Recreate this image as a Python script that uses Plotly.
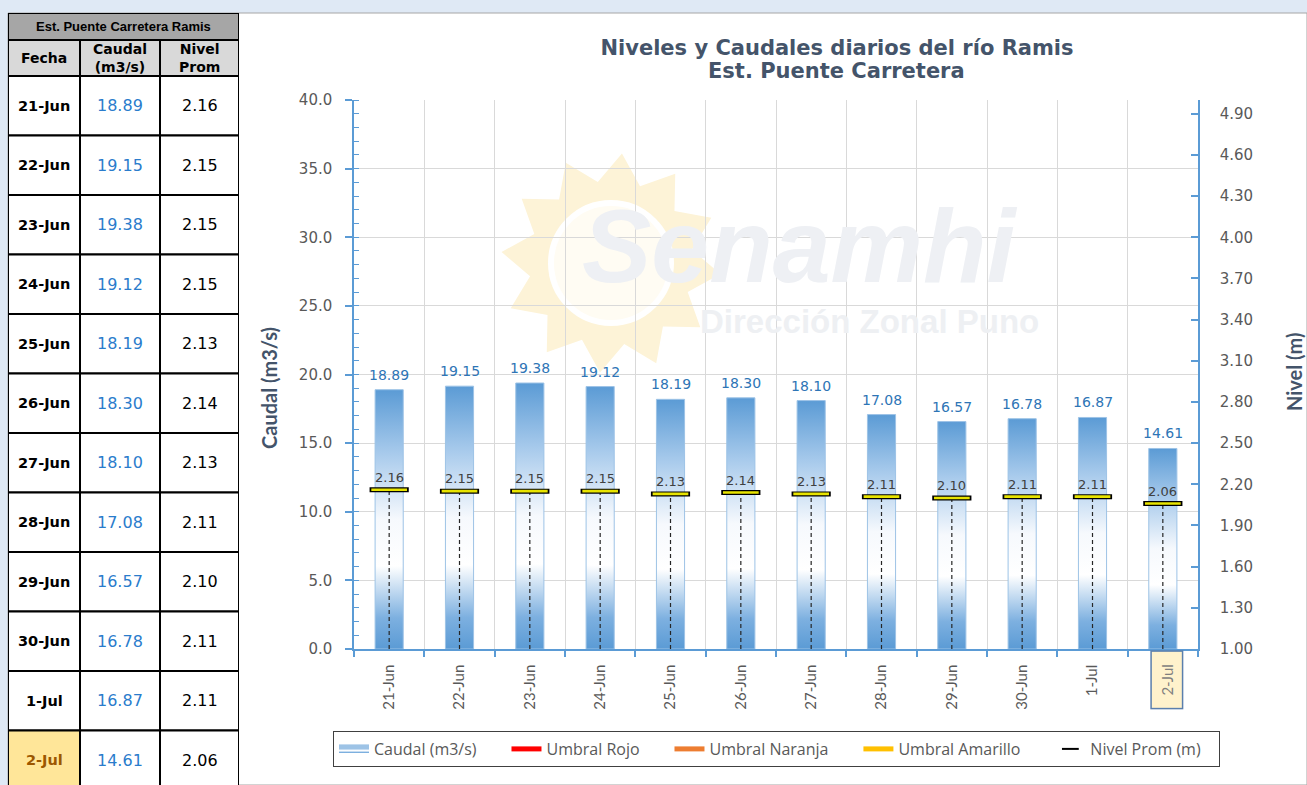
import math
import plotly.graph_objects as go

# ---------------- data ----------------
fechas = ["21-Jun", "22-Jun", "23-Jun", "24-Jun", "25-Jun", "26-Jun",
          "27-Jun", "28-Jun", "29-Jun", "30-Jun", "1-Jul", "2-Jul"]
caudal = [18.89, 19.15, 19.38, 19.12, 18.19, 18.30, 18.10, 17.08, 16.57, 16.78, 16.87, 14.61]
nivel = [2.16, 2.15, 2.15, 2.15, 2.13, 2.14, 2.13, 2.11, 2.10, 2.11, 2.11, 2.06]
caudal_ticks = [0.0, 5.0, 10.0, 15.0, 20.0, 25.0, 30.0, 35.0, 40.0]
nivel_ticks = [1.00, 1.30, 1.60, 1.90, 2.20, 2.50, 2.80, 3.10, 3.40, 3.70, 4.00, 4.30, 4.60, 4.90]
umbral_rojo = [None]
umbral_naranja = [None]
umbral_amarillo = [None]
tabla_titulo = "Est. Puente Carretera Ramis"
tabla_columnas = ["Fecha", "Caudal<br>(m3/s)", "Nivel<br>Prom"]
fecha_actual = "2-Jul"
titulo_1 = "Niveles y Caudales diarios del río Ramis"
titulo_2 = "Est. Puente Carretera"

W, H = 1307, 785


def px(x):
    return x / W


def py(y):
    return 1 - y / H


idx = list(range(len(fechas)))
n = len(fechas)
BLUE = "#5b9bd5"
GRID = "#d9d9d9"
TXT = "#595959"
TITLE_C = "#44546a"
NB = "\u00a0"

fig = go.Figure()

# ---------------- bars (gradient filled) ----------------
grad = [[0.0, "#5b9bd5"], [0.12, "#7db0e0"], [0.32, "#ffffff"], [0.5, "#f6f9fd"],
        [0.75, "#a9cbec"], [1.0, "#5b9bd5"]]
hw = 0.2
for i, v in zip(idx, caudal):
    fig.add_trace(go.Scatter(
        x=[i - hw, i - hw, i + hw, i + hw, i - hw], y=[0, v, v, 0, 0],
        fill="toself", mode="lines", line=dict(color="#9dc3e6", width=1),
        fillgradient=dict(type="vertical", colorscale=grad, start=0, stop=v),
        name="Caudal (m3/s)" + NB * 6, legendgroup="caudal", showlegend=(i == 0),
        hoverinfo="skip"))

# ---------------- thresholds (legend only, no visible values) ----------------
for nm, col, vals in [("Umbral Rojo", "#ff0000", umbral_rojo),
                      ("Umbral Naranja", "#ed7d31", umbral_naranja),
                      ("Umbral Amarillo", "#ffc000", umbral_amarillo)]:
    fig.add_trace(go.Scatter(x=[None] * len(vals), y=vals, mode="lines", name=nm + NB * 6,
                             line=dict(color=col, width=4), yaxis="y2"))

# ---------------- drop lines for level ----------------
dx, dy = [], []
for i, v in zip(idx, nivel):
    dx += [i, i, None]
    dy += [nivel_ticks[0], v, None]
fig.add_trace(go.Scatter(x=dx, y=dy, mode="lines", yaxis="y2", showlegend=False,
                         line=dict(color="#262626", width=1.2, dash="4px,3px"),
                         hoverinfo="skip"))

# ---------------- level markers ----------------
fig.add_trace(go.Scatter(x=idx, y=nivel, yaxis="y2", mode="markers", name="Nivel Prom (m)" + NB * 3,
                         marker=dict(symbol="line-ew", size=28, color="black",
                                     line=dict(width=5, color="black"))))
fig.add_trace(go.Scatter(x=idx, y=nivel, yaxis="y2", mode="markers", showlegend=False,
                         marker=dict(symbol="line-ew", size=25.5, color="#e8e400",
                                     line=dict(width=2.6, color="#e8e400")),
                         hoverinfo="skip"))

# ---------------- value labels ----------------
ann = []
for i, v in zip(idx, caudal):
    ann.append(dict(x=i, y=v, xref="x", yref="y", text=f"{v:.2f}", showarrow=False,
                    xanchor="center", yanchor="bottom", yshift=5,
                    font=dict(family="DejaVu Sans", size=14, color="#2e75b6")))
for i, v in zip(idx, nivel):
    ann.append(dict(x=i, y=v, xref="x", yref="y2", text=f"{v:.2f}", showarrow=False,
                    xanchor="center", yanchor="bottom", yshift=3,
                    font=dict(family="DejaVu Sans", size=13, color="#404040")))

# highlighted last date label
ann.append(dict(x=idx[fechas.index(fecha_actual)], xref="x", y=py(650), yref="paper",
                text=fecha_actual, textangle=-90, showarrow=False, yanchor="top", xanchor="center",
                xshift=4, width=50, height=24, bgcolor="#fff2cc", bordercolor="#5b7fad",
                borderwidth=1.5, borderpad=3,
                font=dict(family="Lato", size=15, color="#7f7f7f")))

# second title line
ann.append(dict(x=px(836), y=py(71), xref="paper", yref="paper", text=f"<b>{titulo_2}</b>",
                showarrow=False, xanchor="center", yanchor="middle",
                font=dict(family="DejaVu Sans", size=21, color=TITLE_C)))

# axis titles
ann.append(dict(x=px(269), y=py(388), xref="paper", yref="paper", text="<b>Caudal (m3/s)</b>",
                textangle=-90, showarrow=False, xanchor="center", yanchor="middle",
                font=dict(family="Lato", size=20, color=TITLE_C)))
ann.append(dict(x=px(1294), y=py(372), xref="paper", yref="paper", text="<b>Nivel (m)</b>",
                textangle=-90, showarrow=False, xanchor="center", yanchor="middle",
                font=dict(family="Lato", size=20, color=TITLE_C)))

# watermark text
ann.append(dict(x=px(800), y=py(246), xref="paper", yref="paper", text="<b><i>Senamhi</i></b>",
                showarrow=False, xanchor="center", yanchor="middle",
                font=dict(family="Liberation Sans", size=104, color="#eef0f4")))
ann.append(dict(x=px(869), y=py(321), xref="paper", yref="paper", text="<b>Dirección Zonal Puno</b>",
                showarrow=False, xanchor="center", yanchor="middle",
                font=dict(family="Liberation Sans", size=33, color="#eef0f3")))

# ---------------- background / watermark shapes ----------------
shapes = [dict(type="rect", xref="paper", yref="paper", x0=px(8), x1=1.0, y0=0, y1=py(13),
               fillcolor="white", line=dict(color="#a6a6a6", width=1), layer="below")]
cx, cy, R, r = 611, 263, 110, 82
pts = []
for k in range(24):
    ang = math.pi * k / 12 + 0.1
    rad = R if k % 2 == 0 else r
    pts.append((px(cx + rad * math.cos(ang)), py(cy + rad * math.sin(ang))))
path = "M " + " L ".join(f"{a:.5f},{b:.5f}" for a, b in pts) + " Z"
shapes.append(dict(type="path", xref="paper", yref="paper", path=path,
                   fillcolor="#fdf3d7", line=dict(width=0), layer="below"))
shapes.append(dict(type="circle", xref="paper", yref="paper", x0=px(cx - 60), x1=px(cx + 60),
                   y0=py(cy + 60), y1=py(cy - 60), fillcolor="#fffcf3",
                   line=dict(color="white", width=6), layer="below"))

# ---------------- table (own axes: x3 / y3, units = pixels inside the table) ----------------
col_w = [72, 80, 79]
row_h = [27, 36] + [59.5] * n
col_edges = [0]
for w in col_w:
    col_edges.append(col_edges[-1] + w)
row_edges = [0]
for h in row_h:
    row_edges.append(row_edges[-1] + h)

TL = dict(color="black", width=2)
# title row
shapes.append(dict(type="rect", xref="x3", yref="y3", x0=col_edges[0], x1=col_edges[-1],
                   y0=row_edges[0], y1=row_edges[1], fillcolor="#a6a6a6", line=TL))
ann.append(dict(x=col_edges[-1] / 2, y=(row_edges[0] + row_edges[1]) / 2, xref="x3", yref="y3",
                text=f"<b>{tabla_titulo}</b>", showarrow=False, xanchor="center", yanchor="middle",
                font=dict(family="Liberation Sans", size=13, color="black")))
# header row
for c, name in enumerate(tabla_columnas):
    shapes.append(dict(type="rect", xref="x3", yref="y3", x0=col_edges[c], x1=col_edges[c + 1],
                       y0=row_edges[1], y1=row_edges[2], fillcolor="#d9d9d9", line=TL))
    ann.append(dict(x=(col_edges[c] + col_edges[c + 1]) / 2, y=(row_edges[1] + row_edges[2]) / 2,
                    xref="x3", yref="y3", text=f"<b>{name}</b>", showarrow=False,
                    xanchor="center", yanchor="middle",
                    font=dict(family="DejaVu Sans", size=14, color="black")))
# data rows
for rr, (f, q, lv) in enumerate(zip(fechas, caudal, nivel)):
    y0, y1 = row_edges[2 + rr], row_edges[3 + rr]
    ym = (y0 + y1) / 2
    hl = (f == fecha_actual)
    cell_txt = [f"<b>{f}</b>", f"{q:.2f}", f"{lv:.2f}"]
    cell_fill = ["#ffe699" if hl else "white", "white", "white"]
    cell_col = ["#9c5700" if hl else "black", "#2a7ccc", "black"]
    cell_size = [14.5, 16, 16]
    for c in range(3):
        shapes.append(dict(type="rect", xref="x3", yref="y3", x0=col_edges[c], x1=col_edges[c + 1],
                           y0=y0, y1=y1, fillcolor=cell_fill[c], line=TL))
        ann.append(dict(x=(col_edges[c] + col_edges[c + 1]) / 2, y=ym, xref="x3", yref="y3",
                        text=cell_txt[c], showarrow=False, xanchor="center", yanchor="middle",
                        font=dict(family="DejaVu Sans", size=cell_size[c], color=cell_col[c])))

# ---------------- layout ----------------
fig.update_layout(
    width=W, height=H, margin=dict(l=0, r=0, t=0, b=0, autoexpand=False),
    paper_bgcolor="#dfe9f5", plot_bgcolor="rgba(0,0,0,0)",
    title=dict(text=f"<b>{titulo_1}</b>",
               x=px(837), xanchor="center", y=py(48), yanchor="middle",
               xref="paper", yref="paper", automargin=False,
               font=dict(family="DejaVu Sans", size=21, color=TITLE_C)),
    xaxis=dict(domain=[px(354), px(1198)], range=[-0.5, n - 0.5], automargin=False,
               tickmode="array", tickvals=idx,
               ticktext=[f if f != fecha_actual else "" for f in fechas],
               tickangle=-90, ticks="", showgrid=False, zeroline=False,
               showline=True, linecolor=BLUE, linewidth=1.5, ticklabelstandoff=8,
               tickfont=dict(family="Lato", size=15, color=TXT),
               minor=dict(tickmode="linear", tick0=-0.5, dtick=1, ticks="outside", ticklen=6,
                          tickcolor=BLUE, tickwidth=1.5, showgrid=True, gridcolor=GRID)),
    yaxis=dict(domain=[py(649), py(100)], range=[0, 40], tickmode="array", automargin=False,
               tickvals=caudal_ticks, ticktext=[f"{t:.1f}" for t in caudal_ticks],
               showgrid=True, gridcolor=GRID, zeroline=False,
               showline=True, linecolor=BLUE, linewidth=1.5,
               ticks="outside", ticklen=7, tickcolor=BLUE, tickwidth=1.5, ticklabelstandoff=10,
               tickfont=dict(family="DejaVu Sans", size=15, color=TXT),
               minor=dict(tickmode="linear", tick0=0, dtick=1, ticks="inside", ticklen=5,
                          tickcolor=BLUE, tickwidth=1, showgrid=False)),
    yaxis2=dict(overlaying="y", side="right", range=[1, 5], anchor="x", automargin=False,
                tickmode="array", tickvals=nivel_ticks, ticktext=[f"{t:.2f}" for t in nivel_ticks],
                showgrid=False, zeroline=False, showline=True, linecolor=BLUE, linewidth=1.5,
                ticks="inside", ticklen=7, tickcolor=BLUE, tickwidth=1.5, ticklabelstandoff=17,
                tickfont=dict(family="DejaVu Sans", size=15, color=TXT)),
    xaxis3=dict(domain=[px(8), px(239)], range=[0, sum(col_w)], visible=False, anchor="y3",
                fixedrange=True, automargin=False),
    yaxis3=dict(domain=[0, py(13)], range=[H - 13, 0], visible=False, anchor="x3",
                fixedrange=True, automargin=False),
    legend=dict(orientation="h", x=px(333), y=py(731), xanchor="left", yanchor="top",
                bgcolor="white", bordercolor="#404040", borderwidth=1, itemsizing="constant",
                font=dict(family="Open Sans", size=16, color=TXT), traceorder="normal"),
    annotations=ann, shapes=shapes, showlegend=True,
)

fig.write_html("out.html", config={"displayModeBar": False},
               post_script="document.body.style.margin='0px';document.body.style.overflow='hidden';")
